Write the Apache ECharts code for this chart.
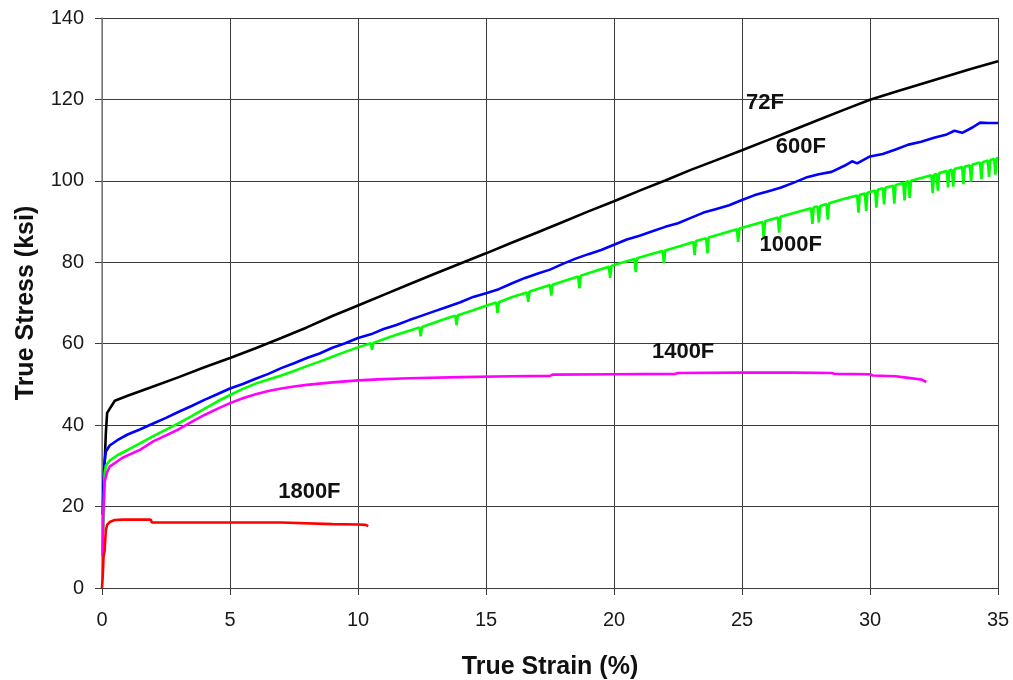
<!DOCTYPE html>
<html>
<head>
    <meta charset="utf-8">
    <title>True Stress vs True Strain</title>
    <script src="https://cdn.jsdelivr.net/npm/echarts@6/dist/echarts.min.js"></script>
    <style>
        html, body { margin: 0; padding: 0; background: #fff; }
        #chart { width: 1013px; height: 680px; }
    </style>
</head>
<body>
<div id="chart"></div>
<script>
    // [strain %, stress ksi]
    var s72F = [[0.05,20],[0.1,30],[0.15,38],[0.2,43],[0.5,46],[1,47.2],[2,49.5],[3,51.8],[4,54.2],[5,56.5],
        [6,58.9],[7,61.4],[8,64],[9,66.8],[10,69.4],[11,72],[12,74.6],[13,77.2],[14,79.7],[15,82.2],
        [16,84.8],[17,87.3],[18,89.9],[19,92.5],[20,95],[21,97.6],[22,100.1],[23,102.7],[24,105.1],[25,107.5],
        [26,110],[27,112.5],[28,115],[29,117.5],[30,119.9],[31,121.9],[32,123.8],[33,125.7],[34,127.6],[35,129.4]];

    var s600F = [[0.03,18],[0.06,26],[0.1,31],[0.15,33.5],[0.3,35],[0.6,36.3],[1,37.7],[1.5,39],[2,40.4],[2.5,41.8],
        [3,43.3],[3.5,44.7],[4,46.2],[4.5,47.6],[5,49],[5.5,50.1],[6,51.4],[6.5,52.6],[7,54],[7.5,55.2],
        [8,56.5],[8.5,57.6],[9,59],[9.5,60.1],[10,61.4],[10.5,62.3],[11,63.6],[11.5,64.6],[12,65.8],[12.5,66.9],
        [13,68],[13.5,69.1],[14,70.2],[14.5,71.5],[15,72.4],[15.5,73.4],[16,74.8],[16.5,76.1],[17,77.2],[17.5,78.2],
        [18,79.6],[18.5,80.9],[19,82],[19.5,83],[20,84.3],[20.5,85.6],[21,86.5],[21.5,87.6],[22,88.7],[22.5,89.6],
        [23,90.9],[23.5,92.2],[24,93.1],[24.5,94],[25,95.3],[25.5,96.5],[26,97.4],[26.5,98.3],[27,99.5],[27.5,100.8],
        [28,101.6],[28.5,102.2],[29,103.7],[29.3,104.8],[29.5,104.3],[30,106],[30.5,106.6],[31,107.7],[31.5,108.9],[32,109.6],
        [32.5,110.6],[33,111.4],[33.3,112.3],[33.6,111.8],[34,113.1],[34.3,114.3],[34.6,114.2],[35,114.2]];

    var s1000F = [[0.05,14],[0.08,22],[0.1,28],[0.15,30],[0.3,31.3],[0.6,32.6],[1,33.9],[1.5,35.6],[2,37.3],[2.5,38.9],
        [3,40.5],[3.5,42.2],[4,44],[4.5,45.8],[5,47.4],[5.5,48.9],[6,50.2],[6.5,51.2],[7,52.2],[7.5,53.3],
        [8,54.5],[8.5,55.6],[9,56.8],[9.5,58],[10,59.1],[10.5,60.1],[10.55,58.5],[10.6,60.2],[11,61.1],[11.5,62.2],
        [12,63.2],[12.4,64],[12.45,61.8],[12.5,64.1],[13,65.2],[13.5,66.3],[13.8,66.9],[13.85,64.6],[13.9,67],[14.5,68.2],
        [15,69.3],[15.4,70.1],[15.45,67.6],[15.5,70.2],[16,71.4],[16.6,72.6],[16.65,70.3],[16.7,72.8],[17.2,73.8],[17.5,74.4],
        [17.55,71.8],[17.6,74.5],[18.2,75.7],[18.6,76.5],[18.65,73.6],[18.7,76.7],[19.3,77.9],[19.8,78.9],[19.85,76.2],[19.9,79.1],
        [20.4,80.1],[20.8,80.8],[20.85,77.6],[20.9,81],[21.5,82.1],[21.9,82.8],[21.95,79.8],[22,82.9],[22.6,84],[23.1,85],
        [23.15,81.8],[23.2,85.2],[23.6,85.9],[23.65,82.2],[23.7,86.1],[24.3,87.2],[24.8,88.1],[24.85,85],[24.9,88.3],[25.8,89.9],
        [25.85,86],[25.9,90.1],[26.4,91],[26.45,87.3],[26.5,91.2],[27.2,92.4],[27.7,93.3],[27.75,89.4],[27.8,93.5],[27.95,93.7],
        [28,89.8],[28.05,93.8],[28.3,94.3],[28.35,90.5],[28.4,94.5],[29,95.6],[29.5,96.4],[29.55,92.2],[29.6,96.6],[29.8,96.9],
        [29.85,92.6],[29.9,97.1],[30.2,97.6],[30.25,93.4],[30.3,97.8],[30.5,98.2],[30.55,94.2],[30.6,98.3],[30.9,98.8],[30.95,94.4],
        [31,99],[31.3,99.5],[31.35,95.2],[31.4,99.7],[31.5,99.9],[31.55,95.8],[31.6,100],[32,100.7],[32.4,101.4],[32.45,97],
        [32.5,101.5],[32.6,101.7],[32.65,97.6],[32.7,101.9],[33,102.4],[33.05,98.4],[33.1,102.6],[33.2,102.7],[33.25,98.6],[33.3,102.9],
        [33.6,103.4],[33.65,99.2],[33.7,103.5],[33.9,103.8],[33.95,99.8],[34,104],[34.3,104.5],[34.35,100.4],[34.4,104.6],[34.6,105],
        [34.65,101],[34.7,105.1],[34.85,105.4],[34.9,101.5],[34.95,105.5],[35,105.7]];

    var s1400F = [[0.02,8],[0.05,18],[0.1,26],[0.2,28.5],[0.3,29.8],[0.8,32],[1.5,34],[2,36],[2.5,37.5],[3,39],
        [3.5,40.8],[4,42.5],[4.5,44],[5,45.4],[5.5,46.6],[6,47.6],[6.5,48.4],[7,49],[7.5,49.5],[8,49.9],
        [9,50.5],[10,51],[11,51.3],[12,51.5],[14,51.8],[16,52],[17.5,52.1],[17.6,52.4],[20,52.5],[22.4,52.6],
        [22.5,52.8],[25,52.9],[27,52.9],[28.5,52.8],[28.6,52.6],[30,52.5],[30.1,52.2],[31,52],[31.5,51.6],[32,51.2],[32.2,50.6]];

    var s1800F = [[0,0],[0.03,3],[0.06,7.7],[0.1,9],[0.15,14.2],[0.2,15.5],[0.3,16.2],[0.5,16.7],[0.8,16.8],[1.9,16.8],
        [1.95,16.1],[3,16.1],[5,16.1],[7,16.1],[7.05,15.7],[9,15.7],[10,15.6],[10.3,15.5],[10.4,15.2]];

    // curve name and where its label sits [strain, stress]
    var curveNames = ['72F', '600F', '1000F', '1400F', '1800F'];
    var labelAt = [[25.9, 119.1], [27.3, 108.3], [26.9, 84.3], [22.7, 58], [8.1, 23.6]];

    var chart = echarts.init(document.getElementById('chart'));
    var gridColor = '#3c3c3c';
    var colors = ['#000000', '#0000ff', '#00ff00', '#ff00ff', '#ff0000'];
    var allData = [s72F, s600F, s1000F, s1400F, s1800F];

    var series = allData.map(function (d, i) {
        return {
            name: curveNames[i],
            type: 'line',
            data: d,
            showSymbol: false,
            smooth: false,
            lineStyle: { color: colors[i], width: 2.6 },
            itemStyle: { color: colors[i] },
            markPoint: {
                symbol: 'circle',
                symbolSize: 1,
                itemStyle: { color: 'rgba(0,0,0,0)' },
                label: {
                    show: true,
                    position: 'inside',
                    formatter: curveNames[i],
                    color: '#111',
                    fontFamily: 'Liberation Sans',
                    fontWeight: 'bold',
                    fontSize: 22
                },
                data: [{ coord: labelAt[i] }]
            }
        };
    });

    var option = {
        animation: false,
        backgroundColor: '#ffffff',
        grid: { left: 102, right: 15, top: 18, bottom: 92, containLabel: false, outerBoundsMode: 'none' },
        xAxis: {
            type: 'value',
            min: 0, max: 35, interval: 5,
            name: 'True Strain (%)',
            nameLocation: 'middle',
            nameGap: 67,
            nameTextStyle: { fontFamily: 'Liberation Sans', fontWeight: 'bold', fontSize: 25, color: '#111' },
            axisLine: { show: true, lineStyle: { color: gridColor, width: 1 } },
            axisTick: { show: true, length: 7, lineStyle: { color: gridColor } },
            axisLabel: { fontFamily: 'Liberation Sans', fontSize: 20, color: '#1a1a1a', margin: 22 },
            splitLine: { show: true, lineStyle: { color: gridColor, width: 1 } }
        },
        yAxis: {
            type: 'value',
            min: 0, max: 140, interval: 20,
            name: 'True Stress (ksi)',
            nameLocation: 'middle',
            nameGap: 63,
            nameTextStyle: { fontFamily: 'Liberation Sans', fontWeight: 'bold', fontSize: 25, color: '#111' },
            axisLine: { show: true, lineStyle: { color: '#888', width: 1.5 } },
            axisTick: { show: true, length: 7, lineStyle: { color: gridColor } },
            axisLabel: { fontFamily: 'Liberation Sans', fontSize: 20, color: '#1a1a1a', margin: 18 },
            splitLine: { show: true, lineStyle: { color: gridColor, width: 1 } }
        },
        series: series
    };
    chart.setOption(option);
</script>
</body>
</html>
